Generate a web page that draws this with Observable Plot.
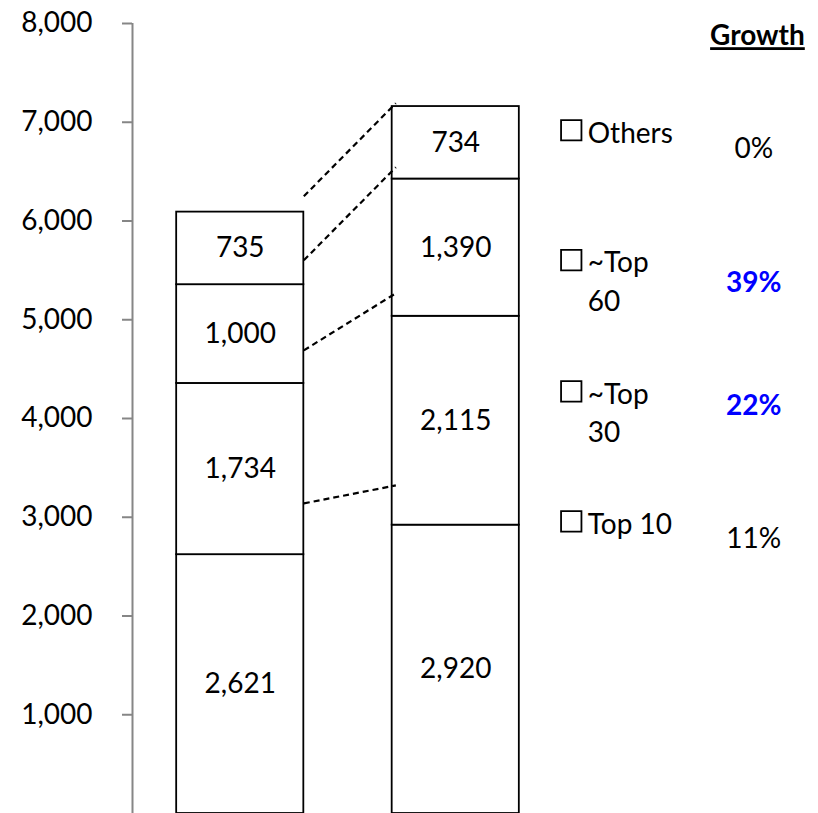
<!DOCTYPE html>
<html><head><meta charset="utf-8">
<script src="https://cdn.jsdelivr.net/npm/d3@7"></script>
<script src="https://cdn.jsdelivr.net/npm/@observablehq/plot@0.6"></script>
<style>html,body{margin:0;padding:0;background:#fff;overflow:hidden}</style>
</head><body><div id="chart"></div>
<script>
// ---- data ----
const periods = ["Before", "After"];
const segments = ["Top 10", "~Top 30", "~Top 60", "Others"];
const valuesBefore = [2621, 1734, 1000, 735];
const valuesAfter = [2920, 2115, 1390, 734];
const legendLabels = ["Top 10", "~Top\n30", "~Top\n60", "Others"];
const growthTitle = "Growth";
const growthLabels = ["11%", "22%", "39%", "0%"];
const growthHighlight = [false, true, true, false];
// dashed connector lines (value at bar 1 right edge -> value at bar 2 left edge)
const connectorFrom = [3140, 4690, 5602, 6250];
const connectorTo = [3322, 5268, 6544, 7193];
const yTicks = [1000, 2000, 3000, 4000, 5000, 6000, 7000, 8000];

// ---- layout ----
const half = 0.295;               // half bar width in x units
const legendX = 1.536, legendTextX = 1.6125, growthX = 2.383, growthTitleX = 2.40;
const legendY = [2958, 4077, 5410, 6919];     // text centre (multi-line centre)
const legendBoxY = [2958, 4275, 5604, 6919];
const growthY = [2776, 4123, 5369, 6727];
const growthTitleY = 7871;

const series = [valuesBefore, valuesAfter];
const rects = [];
series.forEach((vals, i) => {
  const cum = Array.from(d3.cumsum(vals));
  vals.forEach((v, j) => {
    rects.push({period: periods[i], i, seg: segments[j], y1: cum[j] - v, y2: cum[j], value: v});
  });
});
const connectors = connectorFrom.map((v, k) => ({x1: half, x2: 1 - half + 0.017, y1: v, y2: connectorTo[k]}));
const legend = legendLabels.map((l, k) => ({label: l, y: legendY[k], by: legendBoxY[k]}));
const growth = growthLabels.map((g, k) => ({label: g, hi: growthHighlight[k], y: growthY[k]}));

const font = "Lato, 'Open Sans', sans-serif";
const fs = 28;
const chart = Plot.plot({
  width: 818, height: 813,
  marginTop: 23, marginBottom: 0, marginLeft: 132, marginRight: 0,
  style: {fontFamily: font, fontSize: fs + "px", color: "black", background: "white"},
  x: {domain: [-0.5, -0.5 + 686 / 215.5], axis: null},
  y: {domain: [0, 8000], axis: null},
  marks: [
    Plot.ruleX([-0.5], {y1: 0, y2: 8000, stroke: "#868686", strokeWidth: 2}),
    Plot.axisY({ticks: yTicks, tickFormat: d3.format(","), tickSize: 10, tickPadding: 30,
      stroke: "#868686", fill: "black", strokeWidth: 2, fontSize: fs, fontFamily: font}),
    Plot.rect(rects, {x1: d => d.i - half, x2: d => d.i + half, y1: "y1", y2: "y2",
      fill: "white", stroke: "black", strokeWidth: 1.8}),
    Plot.text(rects, {x: "i", y: d => (d.y1 + d.y2) / 2, text: d => d3.format(",")(d.value),
      fontSize: fs, fill: "black"}),
    Plot.link(connectors, {x1: "x1", x2: "x2", y1: "y1", y2: "y2", stroke: "black",
      strokeWidth: 2.2, strokeDasharray: "6,4"}),
    Plot.dot(legend, {x: legendX, y: "by", symbol: "square", r: 11.5, fill: "none",
      stroke: "black", strokeWidth: 1.8}),
    Plot.text(legend, {x: legendTextX, y: "y", text: "label", textAnchor: "start",
      lineHeight: 1.37, fontSize: fs, fill: "black"}),
    Plot.text([growthTitle], {x: growthTitleX, y: growthTitleY, text: d => d,
      fontWeight: "bold", fontSize: fs, fill: "black"}),
    Plot.text(growth.filter(d => !d.hi), {x: growthX, y: "y", text: "label", fontSize: fs, fill: "black"}),
    Plot.text(growth.filter(d => d.hi), {x: growthX, y: "y", text: "label", fontSize: fs,
      fontWeight: "bold", fill: "#0000FF"})
  ]
});
d3.select(chart).selectAll("text").filter(function() { return this.textContent === growthTitle; })
  .style("text-decoration", "underline");
document.getElementById("chart").appendChild(chart);
</script></body></html>
